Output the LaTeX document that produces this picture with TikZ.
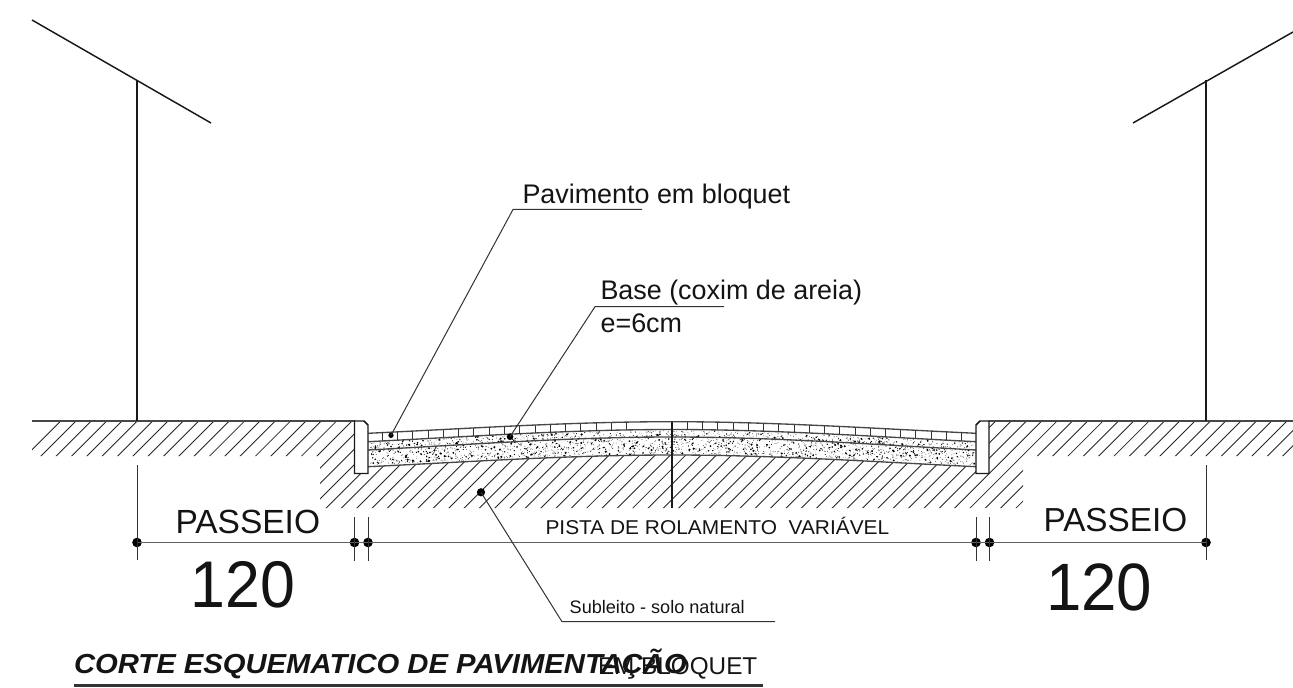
\documentclass[tikz,border=0pt]{standalone}
\usepackage{fontspec}
\setmainfont{Liberation Sans}
\newcommand{\pxfont}[1]{\pgfmathsetmacro{\fsz}{#1*0.75}\fontsize{\fsz}{#1}\selectfont}
\tikzset{
  thinline/.style={line width=0.75pt,draw=black!80},
  dimline/.style={line width=1.1pt,draw=black!62},
  hatchline/.style={line width=0.65pt,draw=black!85},
  wall/.style={line width=1.1pt,draw=black!90},
  layer/.style={line width=1pt,draw=black!72},
  lbl/.style={anchor=base west,inner sep=0pt,outer sep=0pt,text=black!92},
  dotmark/.style={circle,fill=black,inner sep=0pt,minimum size=7.2pt},
  middot/.style={circle,fill=black,inner sep=0pt,minimum size=5pt},
  smalldot/.style={circle,fill=black,inner sep=0pt,minimum size=4pt},
}
\begin{document}
\begin{tikzpicture}[x=0.75pt,y=-0.75pt]
\useasboundingbox (0,0) rectangle (1293,688);
% hatching
\begin{scope}
\clip (32,421) -- (354.5,421) -- (354.5,473.5) -- (368,473.5) -- (368,466.7)
  .. controls (470,461.8) and (570,455) .. (672,455)
  .. controls (774,455) and (874,461.8) .. (976,466.7)
  -- (976,473.5) -- (989,473.5) -- (989,421) -- (1293,421) -- (1293,456)
  -- (1023,456) -- (1023,508) -- (320,508) -- (320,456) -- (32,456) -- cycle;
\foreach \k in {0,...,83} {
  \pgfmathsetmacro{\s}{481.67+15.33*\k}
  \draw[hatchline] (\s-400,400) -- (\s-520,520);
}
\end{scope}
% ground lines
\draw[layer] (32,421) -- (354.5,421);
\draw[layer] (989,421) -- (1293,421);
% sand stipple
\pgfmathsetseed{4711}
\foreach \i in {1,...,2200} {
  \pgfmathsetmacro{\xx}{369+rnd*606}
  \pgfmathsetmacro{\uu}{pow(abs(\xx-672)/304,1.5)}
  \pgfmathsetmacro{\yy}{430.5+12.2*\uu+rnd*(23.5-0.6*\uu)}
  \pgfmathsetmacro{\rr}{0.33+0.85*pow(rnd,5)}
  \fill[black] (\xx,\yy) circle[radius=\rr];
}
% pavement layers
\draw[layer] (368,433.3) .. controls (470,428.5) and (570,421.7) .. (672,421.7)
  .. controls (774,421.7) and (874,428.5) .. (976,433.3);
\draw[layer] (368,441.7) .. controls (470,436.6) and (570,429.5) .. (672,429.5)
  .. controls (774,429.5) and (874,436.6) .. (976,441.7);
\draw[layer] (368,450) .. controls (470,444.6) and (570,437) .. (672,437)
  .. controls (774,437) and (874,444.6) .. (976,450);
\draw[layer] (368,466.7) .. controls (470,461.8) and (570,455) .. (672,455)
  .. controls (774,455) and (874,461.8) .. (976,466.7);
% paver joints
\foreach \k in {0,...,16} {
  \pgfmathsetmacro{\xx}{382.3+15.27*\k}
  \pgfmathsetmacro{\uu}{pow(abs(\xx-672)/304,1.5)}
  \draw[thinline] (\xx,421.7+11.6*\uu) -- (\xx,429.5+12.2*\uu);
}
\foreach \k in {0,...,18} {
  \pgfmathsetmacro{\xx}{687.3+15.246*\k}
  \pgfmathsetmacro{\uu}{pow(abs(\xx-672)/304,1.5)}
  \draw[thinline] (\xx,421.7+11.6*\uu) -- (\xx,429.5+12.2*\uu);
}
% kerbs
\draw[wall,fill=white] (354.5,421) -- (364,421) -- (368,425) -- (368,473.5) -- (354.5,473.5) -- cycle;
\draw[wall,fill=white] (980,421) -- (989,421) -- (989,473.5) -- (976,473.5) -- (976,425) -- cycle;
% centre line
\draw[wall] (672,421.5) -- (672,508);
% houses
\coordinate (roofLa) at (32,20);
\coordinate (roofLb) at (211,123);
\coordinate (wallLt) at (137,80);
\coordinate (wallLb) at (137,421);
\coordinate (roofRa) at (1293,32);
\coordinate (roofRb) at (1133,123);
\coordinate (wallRt) at (1206,80);
\coordinate (wallRb) at (1206,421);
\draw[wall] (roofLa) -- (roofLb);
\draw[wall] (wallLt) -- (wallLb);
\draw[wall] (roofRa) -- (roofRb);
\draw[wall] (wallRt) -- (wallRb);
% dimension line
\node[dotmark] (d1) at (137,542.5) {};
\node[dotmark] (d2) at (354.5,542.5) {};
\node[dotmark] (d3) at (368,542.5) {};
\node[dotmark] (d4) at (976,542.5) {};
\node[dotmark] (d5) at (989.5,542.5) {};
\node[dotmark] (d6) at (1206,542.5) {};
\draw[dimline] (d1.center) -- (d6.center);
\draw[thinline] (137,465) -- (137,560);
\draw[thinline] (1206,465) -- (1206,560);
\foreach \xx in {354.5,368,976,989.5} \draw[thinline] (\xx,517) -- (\xx,560.5);
% labels
\node[lbl] (pasL) at (175.5,533.3) {\pxfont{33.5}PASSEIO};
\node[lbl] (pasR) at (1043.5,531) {\pxfont{33.3}PASSEIO};
\node[lbl] (numL) at (190.5,607.7) {\pxfont{66}\scalebox{0.95}[1]{120}};
\node[lbl] (numR) at (1046,610) {\pxfont{67}\scalebox{0.95}[1]{120}};
\node[lbl] (pista) at (545.5,534.3) {\pxfont{20}\scalebox{1.045}[1]{PISTA DE ROLAMENTO\ \ VARIÁVEL}};
\node[lbl] (sub) at (569.7,613) {\pxfont{18.1}Subleito - solo natural};
\node[lbl] (pav) at (522.5,204) {\pxfont{26.9}Pavimento em bloquet};
\node[lbl] (base) at (600.5,300) {\pxfont{26.9}Base (coxim de areia)};
\node[lbl] (esp) at (600.6,332.3) {\pxfont{26.9}e=6cm};
\node[lbl] (em) at (598,674) {\pxfont{24.3}EM BLOQUET};
\node[lbl] (title) at (74,673.3) {\pxfont{27.5}\scalebox{1.063}[1]{\bfseries\itshape CORTE ESQUEMATICO DE PAVIMENTAÇÃO}};
% leaders
\node[smalldot] (lp) at (391,435.3) {};
\node[middot] (lb) at (510,436.7) {};
\node[dotmark,minimum size=6.2pt] (ls) at (481,492.3) {};
\coordinate (kp) at (513,209.5);
\coordinate (ep) at (642,209.5);
\coordinate (kb) at (595,306.7);
\coordinate (eb) at (724,306.7);
\coordinate (ks) at (562,621.7);
\coordinate (es) at (775,621.7);
\draw[thinline] (lp.center) -- (kp) -- (ep);
\draw[thinline] (lb.center) -- (kb) -- (eb);
\draw[thinline] (ls.center) -- (ks) -- (es);
\coordinate (ula) at (73.5,685.7);
\coordinate (ulb) at (763,685.7);
\draw[line width=2pt,draw=black!80] (ula) -- (ulb);
\end{tikzpicture}
\end{document}
